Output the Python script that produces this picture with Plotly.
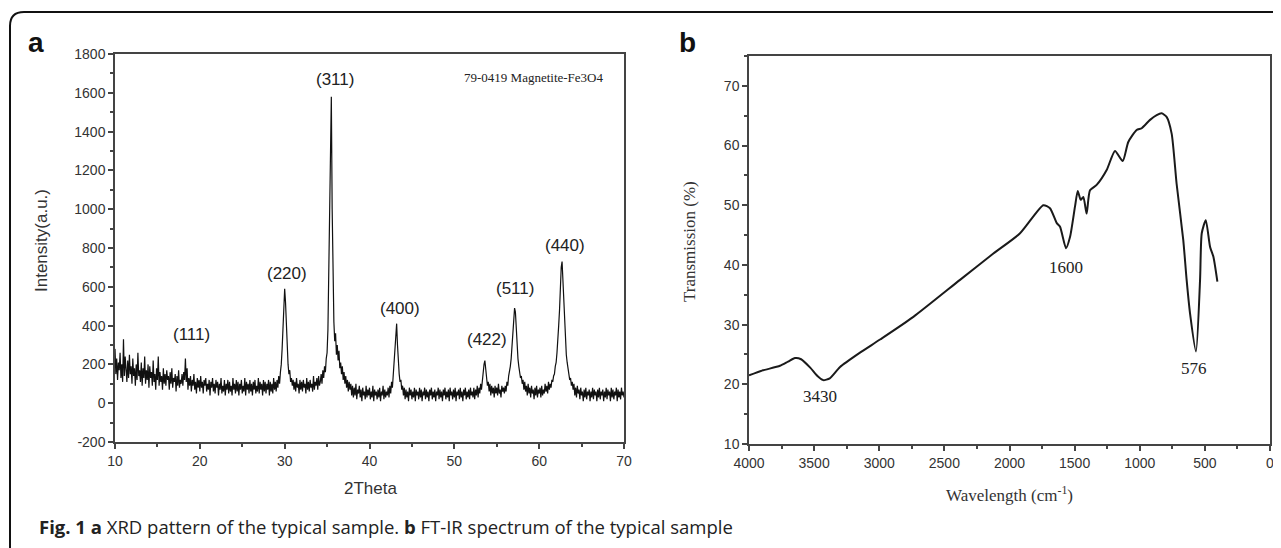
import plotly.graph_objects as go

# ---------------- data ----------------
# XRD pattern: 2Theta sampling grid 10.0..70.0 (step 0.1) and intensity
xrd_2theta = [round(10 + 0.1 * i, 1) for i in range(601)]
xrd_intensity = [
    280, 150, 230, 120, 210, 170, 260, 130, 200, 110,
    330, 140, 240, 160, 110, 220, 130, 250, 150, 190,
    100, 230, 140, 180, 90, 200, 120, 260, 140, 170,
    110, 210, 90, 180, 130, 240, 100, 170, 120, 200,
    80, 190, 130, 160, 90, 220, 110, 150, 70, 180,
    120, 240, 90, 160, 110, 140, 70, 180, 100, 150,
    90, 170, 120, 140, 70, 160, 100, 180, 80, 130,
    110, 150, 60, 140, 90, 170, 80, 120, 100, 150,
    90, 160, 120, 230, 110, 180, 70, 130, 90, 140,
    60, 120, 90, 150, 70, 110, 50, 130, 80, 120,
    60, 140, 80, 110, 50, 120, 90, 130, 60, 100,
    70, 120, 40, 110, 80, 130, 60, 100, 50, 120,
    80, 110, 40, 100, 70, 130, 50, 90, 60, 120,
    40, 100, 70, 120, 50, 110, 60, 90, 40, 130,
    70, 100, 50, 120, 60, 110, 40, 100, 70, 120,
    50, 90, 60, 130, 40, 110, 70, 100, 50, 120,
    60, 100, 40, 110, 70, 120, 50, 90, 60, 130,
    50, 110, 70, 100, 40, 120, 60, 110, 50, 100,
    70, 120, 40, 110, 60, 100, 50, 130, 70, 110,
    60, 120, 80, 140, 100, 160, 200, 280, 380, 500,
    590, 520, 380, 260, 200, 150, 170, 110, 130, 90,
    120, 70, 110, 60, 130, 80, 100, 50, 120, 70,
    110, 60, 120, 80, 100, 50, 130, 70, 110, 60,
    120, 80, 100, 60, 140, 70, 110, 90, 130, 70,
    140, 90, 110, 150, 100, 170, 130, 190, 160, 230,
    260, 380, 700, 1150, 1450, 1580, 1000, 600, 420, 320,
    360, 250, 300, 220, 270, 180, 210, 150, 190, 120,
    160, 100, 140, 80, 120, 60, 110, 70, 100, 40,
    90, 30, 80, 40, 100, 20, 70, 50, 90, 30,
    70, 10, 80, 40, 60, 20, 90, 30, 70, 40,
    80, 20, 60, 30, 90, 10, 70, 40, 60, 20,
    70, 30, 80, 10, 60, 40, 90, 20, 70, 30,
    60, 40, 80, 30, 90, 50, 110, 80, 150, 230,
    300, 380, 410, 300, 200, 150, 110, 120, 70, 90,
    40, 80, 20, 70, 30, 60, 10, 80, 40, 70,
    20, 60, 30, 80, 10, 70, 40, 60, 20, 80,
    30, 70, 10, 60, 40, 80, 20, 70, 30, 60,
    10, 70, 40, 80, 20, 60, 30, 70, 10, 60,
    40, 80, 20, 70, 30, 60, 10, 70, 40, 80,
    20, 60, 30, 70, 10, 80, 40, 60, 20, 70,
    30, 80, 10, 60, 40, 70, 20, 80, 30, 60,
    10, 70, 40, 80, 20, 60, 30, 70, 20, 80,
    40, 60, 30, 80, 20, 70, 40, 90, 30, 80,
    50, 100, 70, 120, 150, 200, 220, 170, 130, 90,
    110, 60, 100, 40, 90, 50, 80, 30, 90, 50,
    80, 40, 100, 50, 70, 30, 90, 60, 80, 50,
    90, 60, 110, 90, 140, 160, 190, 230, 290, 370,
    440, 490, 470, 370, 300, 230, 190, 160, 130, 140,
    100, 120, 70, 110, 60, 90, 40, 100, 50, 80,
    30, 90, 50, 70, 20, 80, 40, 90, 30, 70,
    50, 80, 30, 90, 40, 70, 50, 100, 60, 90,
    50, 110, 70, 100, 80, 120, 110, 140, 150, 190,
    210, 260, 310, 400, 480, 600, 700, 730, 620, 500,
    400, 310, 250, 210, 170, 150, 120, 130, 90, 110,
    70, 100, 40, 80, 30, 90, 50, 70, 20, 80,
    40, 60, 10, 70, 30, 80, 20, 60, 40, 70,
    10, 60, 30, 80, 20, 70, 40, 60, 10, 70,
    30, 80, 20, 60, 40, 70, 10, 60, 30, 80,
    20, 70, 40, 60, 10, 80, 30, 70, 20, 60,
    40, 80, 10, 70, 30, 60, 20, 80, 40, 60,
    30,
]
xrd_yticks = [-200, 0, 200, 400, 600, 800, 1000, 1200, 1400, 1600, 1800]
xrd_yticklabels = ["-200", "0", "200", "400", "600", "800", "1000", "1200",
                   "1400", "1600", "1800"]

# FT-IR spectrum
ftir_wavenumber = [
    4000, 3900, 3762, 3700, 3647, 3600, 3530, 3470, 3430, 3380,
    3301, 3148, 2994, 2738, 2380, 2124, 1919, 1740, 1689, 1637,
    1612, 1566, 1535, 1497, 1476, 1453, 1433, 1408, 1382, 1331,
    1254, 1190, 1131, 1088, 1024, 985, 921, 870, 832, 794,
    755, 717, 666, 640, 614, 568, 537, 524, 493, 460,
    435, 404,
]
ftir_transmission = [
    21.5, 22.3, 23.1, 23.8, 24.4, 24.2, 22.8, 21.3, 20.7, 21.0,
    22.9, 25.3, 27.5, 31.3, 37.5, 41.9, 45.3, 50.0, 49.5, 47.0,
    46.4, 42.8, 44.7, 49.8, 52.4, 50.9, 51.4, 48.6, 52.5, 53.4,
    55.9, 59.1, 57.4, 60.6, 62.6, 62.9, 64.3, 65.1, 65.4, 64.8,
    62.0, 53.6, 44.2, 37.5, 31.9, 25.5, 37.5, 45.3, 47.5, 43.0,
    41.4, 37.2,
]

xrd_peak_labels = ["(111)", "(220)", "(311)", "(400)", "(422)", "(511)", "(440)"]
xrd_peak_2theta = [19.0, 30.3, 35.9, 43.6, 53.8, 57.15, 63.0]
xrd_peak_label_y = [352, 670, 1666, 489, 326, 589, 815]

ftir_band_labels = ["3430", "1600", "576"]
ftir_band_w = [3455, 1570, 587]
ftir_band_label_y = [17.9, 39.6, 22.7]

caption = ("<b>Fig. 1</b> <b>a</b> XRD pattern of the typical sample. "
           "<b>b</b> FT-IR spectrum of the typical sample")

# ---------------- layout helpers ----------------
# the page body has an 8px margin: the figure is shifted by it, so size and
# coordinates compensate for that offset (window is 1281 x 548)
OFF = 8
W, H = 1281 - OFF, 548 - OFF


def px(x):
    return (x - OFF) / W


def py(y):
    return 1 - (y - OFF) / H


fig = go.Figure()

fig.add_trace(go.Scatter(
    x=xrd_2theta, y=xrd_intensity, mode="lines",
    line=dict(color="#111", width=1.2), xaxis="x", yaxis="y",
    showlegend=False, hoverinfo="skip"))

fig.add_trace(go.Scatter(
    x=ftir_wavenumber, y=ftir_transmission, mode="lines",
    line=dict(color="#1a1a1a", width=2, shape="spline", smoothing=0.6),
    xaxis="x2", yaxis="y2", showlegend=False, hoverinfo="skip"))

axis_common = dict(
    showline=True, linecolor="#444", linewidth=1.5, mirror=True,
    ticks="outside", ticklen=5, tickwidth=1.5, tickcolor="#444",
    showgrid=False, zeroline=False, automargin=False,
    tickfont=dict(family="Arial", size=14, color="#333"),
)

fig.update_layout(
    width=W, height=H,
    margin=dict(l=0, r=0, t=0, b=0, pad=0, autoexpand=False),
    paper_bgcolor="white", plot_bgcolor="white",
    xaxis=dict(domain=[px(115), px(624)], anchor="y", range=[10, 70], dtick=10,
               minor=dict(dtick=5, ticks="outside", ticklen=3, tickcolor="#444"),
               **axis_common),
    yaxis=dict(domain=[py(442), py(54)], anchor="x", range=[-200, 1800],
               tickmode="array", tickvals=xrd_yticks, ticktext=xrd_yticklabels,
               minor=dict(dtick=100, ticks="outside", ticklen=3, tickcolor="#444"),
               **axis_common),
    xaxis2=dict(domain=[px(749), px(1270)], anchor="y2", range=[4000, 0], dtick=500,
                minor=dict(dtick=250, ticks="outside", ticklen=3, tickcolor="#444"),
                **axis_common),
    yaxis2=dict(domain=[py(444), py(56)], anchor="x2", range=[10, 75], dtick=10,
                minor=dict(dtick=5, ticks="outside", ticklen=3, tickcolor="#444"),
                **axis_common),
)

ann = []


def add_text(text, x, y, xref="paper", yref="paper", xanchor="center",
             yanchor="middle", **kw):
    ann.append(dict(text=text, x=x, y=y, xref=xref, yref=yref, xanchor=xanchor,
                    yanchor=yanchor, showarrow=False, **kw))


# peak labels (a)
for t, xv, yv in zip(xrd_peak_labels, xrd_peak_2theta, xrd_peak_label_y):
    add_text(t, xv, yv, xref="x", yref="y",
             font=dict(family="Arial", size=17, color="#222"))
add_text("79-0419 Magnetite-Fe3O4", px(606), py(77), xanchor="right",
         font=dict(family="Liberation Serif", size=13, color="#222"))
# band labels (b)
for t, xv, yv in zip(ftir_band_labels, ftir_band_w, ftir_band_label_y):
    add_text(t, xv, yv, xref="x2", yref="y2",
             font=dict(family="Liberation Serif", size=17, color="#222"))
# axis titles
add_text("Intensity(a.u.)", px(41), py(241), textangle=-90,
         font=dict(family="Arial", size=17, color="#333"))
add_text("2Theta", px(370), py(488),
         font=dict(family="Arial", size=17, color="#333"))
add_text("Transmission (%)", px(689), py(242), textangle=-90,
         font=dict(family="Liberation Serif", size=17, color="#333"))
add_text("Wavelength (cm<sup>-1</sup>)", px(1009), py(494),
         font=dict(family="Liberation Serif", size=17, color="#333"))
# panel letters
add_text("<b>a</b>", px(36), py(42), font=dict(family="Arial", size=28, color="#111"))
add_text("<b>b</b>", px(687), py(42), font=dict(family="Arial", size=28, color="#111"))
# caption
add_text(caption, px(37), py(526), xanchor="left",
         font=dict(family="Open Sans", size=18.5, color="#222"))
fig.update_layout(annotations=ann)

# outer frame with rounded top-left corner
r = 14
path = (f"M {px(10)},{py(560)} L {px(10)},{py(12 + r)} "
        f"Q {px(10)},{py(12)} {px(10 + r)},{py(12)} L {px(1300)},{py(12)}")
fig.add_shape(type="path", path=path, xref="paper", yref="paper",
              line=dict(color="#111", width=2))

fig.write_html("out.html")
